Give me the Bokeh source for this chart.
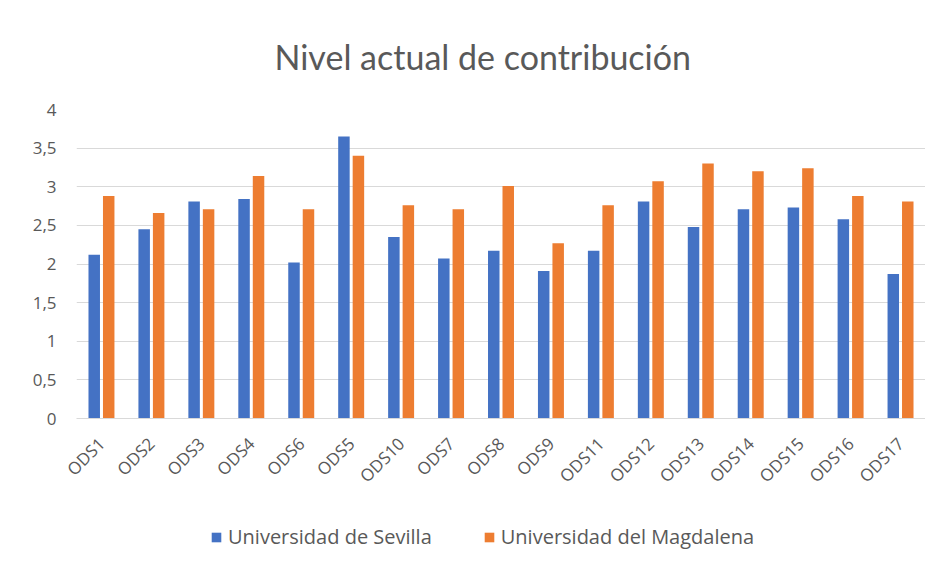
from math import pi
from bokeh.plotting import figure
from bokeh.layouts import column
from bokeh.models import FactorRange, FixedTicker, Legend, LegendItem, ColumnDataSource, Range1d
from bokeh.transform import dodge
from bokeh.embed import file_html
from bokeh.resources import INLINE

categories = ["ODS1", "ODS2", "ODS3", "ODS4", "ODS6", "ODS5", "ODS10", "ODS7", "ODS8",
              "ODS9", "ODS11", "ODS12", "ODS13", "ODS14", "ODS15", "ODS16", "ODS17"]
sevilla = [2.12, 2.45, 2.81, 2.84, 2.02, 3.65, 2.35, 2.07, 2.17,
           1.91, 2.17, 2.81, 2.48, 2.71, 2.73, 2.58, 1.87]
magdalena = [2.88, 2.66, 2.71, 3.14, 2.71, 3.40, 2.76, 2.71, 3.01,
             2.27, 2.76, 3.07, 3.30, 3.20, 3.24, 2.88, 2.81]
series_names = ["Universidad de Sevilla", "Universidad del Magdalena"]
colors = ["#4472C4", "#ED7D31"]
y_ticks = [0, 0.5, 1, 1.5, 2, 2.5, 3, 3.5, 4]

TFONT = "Lato"
FONT = "Open Sans"
GRAY = "#595959"

src = ColumnDataSource(dict(cat=categories, sev=sevilla, mag=magdalena))

p = figure(x_range=FactorRange(*categories, range_padding=0), y_range=(0, 4),
           width=925, height=500, output_backend="svg", toolbar_location=None,
           min_border_left=76, min_border_right=0, min_border_top=109, min_border_bottom=82)

p.title.text = "Nivel actual de contribución"
p.title.align = "left"
p.title.text_font = TFONT
p.title.text_font_size = "34px"
p.title.text_font_style = "normal"
p.title.text_color = GRAY
p.title.standoff = 66
p.title.offset = 198

p.vbar(x=dodge("cat", -0.145, range=p.x_range), top="sev", width=0.23, source=src,
       fill_color=colors[0], line_color=None)
p.vbar(x=dodge("cat", 0.145, range=p.x_range), top="mag", width=0.23, source=src,
       fill_color=colors[1], line_color=None)

p.yaxis.ticker = FixedTicker(ticks=y_ticks)
p.yaxis.major_label_overrides = {t: (str(t).replace(".", ",") if t % 1 else str(int(t))) for t in y_ticks}
p.yaxis.axis_line_color = None
p.yaxis.major_tick_line_color = None
p.yaxis.minor_tick_line_color = None
p.yaxis.major_label_text_font = FONT
p.yaxis.major_label_text_font_size = "17px"
p.yaxis.major_label_text_color = GRAY
p.yaxis.major_label_standoff = 14

p.xaxis.major_label_orientation = pi / 4
p.xaxis.axis_line_color = "#d9d9d9"
p.xaxis.major_tick_line_color = None
p.xaxis.minor_tick_line_color = None
p.xaxis.major_label_text_font = FONT
p.xaxis.major_label_text_font_size = "17px"
p.xaxis.major_label_text_color = GRAY
p.xaxis.major_label_standoff = 16

p.xgrid.grid_line_color = None
p.ygrid.grid_line_color = "#d9d9d9"
p.ygrid.grid_line_width = 1
p.outline_line_color = None

# legend strip below the chart (frame aligned with the chart frame by the column)
p2 = figure(width=925, height=56, output_backend="svg", toolbar_location=None,
            x_range=Range1d(0, 1), y_range=Range1d(0, 1),
            min_border=0, min_border_left=0, min_border_right=0, min_border_top=0, min_border_bottom=0)
p2.axis.visible = False
p2.grid.grid_line_color = None
p2.outline_line_color = None
d1 = p2.vbar(x=[0.5], top=[0], bottom=[0], width=0.0, fill_color=colors[0], line_color=None)
d2 = p2.vbar(x=[0.5], top=[0], bottom=[0], width=0.0, fill_color=colors[1], line_color=None)
legend = Legend(items=[LegendItem(label=series_names[0], renderers=[d1]),
                       LegendItem(label=series_names[1], renderers=[d2])],
                orientation="horizontal", location=(134, 6),
                label_text_font=FONT, label_text_font_size="20px", label_text_color=GRAY,
                glyph_width=12, glyph_height=12, label_standoff=6, spacing=51,
                padding=0, margin=0, border_line_color=None, background_fill_alpha=0)
p2.add_layout(legend, "center")

layout = column(p, p2, spacing=0)
open("out.html", "w").write(file_html(layout, INLINE))
